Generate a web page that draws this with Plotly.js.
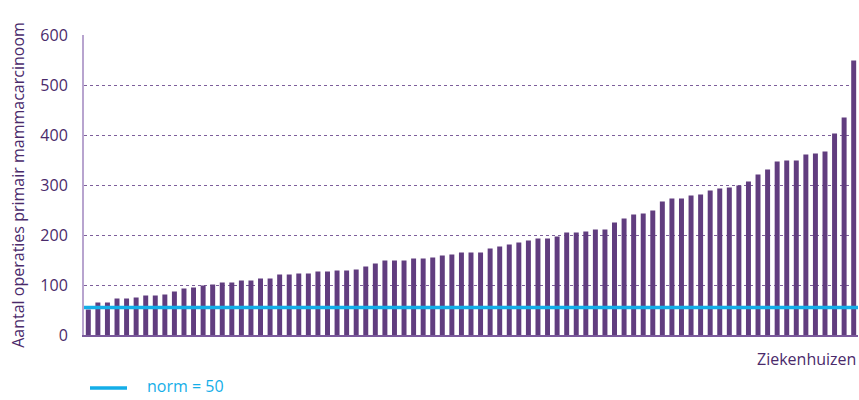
<!DOCTYPE html>
<html>
<head>
<meta charset="utf-8">
<script src="https://cdn.plot.ly/plotly-3.0.1.min.js"></script>
<style>html,body{margin:0;padding:0;background:#fff}#chart{width:859px;height:400px}</style>
</head>
<body>
<div id="chart"></div>
<script>
// Aantal operaties primair mammacarcinoom per ziekenhuis (gesorteerd)
const operaties = [
  51, 65, 65, 73, 73, 75, 79, 79, 81, 87, 93, 95, 99, 101,
  105, 105, 109, 109, 113, 113, 121, 121, 123, 123, 127, 127, 129, 129,
  131, 137, 143, 149, 149, 149, 153, 153, 155, 159, 161, 165, 165, 165,
  173, 177, 181, 185, 189, 193, 193, 197, 205, 205, 207, 211, 211,
  225, 233, 241, 243, 249, 267, 273, 273, 279, 281, 289, 293, 295, 299,
  307, 321, 331, 347, 349, 349, 361, 363, 367, 403, 435, 549
];
const ziekenhuizen = operaties.map((v, i) => i);
const normLevel = 55;          // level as drawn in the picture
const normLabel = 'norm = 50';
const yTicks = [0, 100, 200, 300, 400, 500, 600];
const yTickText = ['0', '100', '200', '300', '400', '500', '600'];

const purple = '#613d7f';
const textPurple = '#4a2a6b';
const blue = '#14aee8';
const font = 'Open Sans, Lato, sans-serif';

const xMin = -0.45, xMax = operaties.length - 1 + 0.45;

const traces = [
  {
    type: 'bar', x: ziekenhuizen, y: operaties,
    marker: {color: purple}, width: 0.52, showlegend: false, hoverinfo: 'y'
  },
  {
    type: 'scatter', mode: 'lines', x: [xMin, xMax], y: [normLevel, normLevel],
    line: {color: blue, width: 3.5}, name: normLabel, showlegend: false
  }
];

const layout = {
  width: 859, height: 400,
  margin: {l: 84, r: 1, t: 35, b: 64.5},
  paper_bgcolor: '#fff', plot_bgcolor: '#fff',
  font: {family: font, color: textPurple, size: 16},
  xaxis: {
    range: [xMin, xMax], showticklabels: false, ticks: '', showgrid: false,
    zeroline: false, showline: true, linecolor: '#7b5a9c', linewidth: 2, fixedrange: true
  },
  yaxis: {
    range: [0, 600], tickvals: yTicks, ticktext: yTickText,
    showgrid: true, gridcolor: '#7d5f9b', griddash: 'dot', gridwidth: 1,
    zeroline: false, showline: true, linecolor: '#b8a4cf', linewidth: 2,
    ticks: '', ticklabelstandoff: 11,
    tickfont: {family: font, size: 16, color: textPurple},
    title: {text: 'Aantal operaties primair mammacarcinoom', font: {family: font, size: 16, color: textPurple}, standoff: 12}
  },
  showlegend: false,
  shapes: [{
    type: 'line', xref: 'paper', yref: 'paper',
    x0: (90 - 84) / 774, x1: (127 - 84) / 774, y0: -0.177, y1: -0.177,
    line: {color: blue, width: 3.5}
  }],
  annotations: [
    {
      text: 'Ziekenhuizen', xref: 'paper', yref: 'paper', x: 1, y: 0,
      xanchor: 'right', yanchor: 'top', yshift: -11, showarrow: false,
      font: {family: font, size: 16, color: textPurple}
    },
    {
      text: normLabel, xref: 'paper', yref: 'paper', x: (146 - 84) / 774, y: -0.2113,
      xanchor: 'left', yanchor: 'bottom', showarrow: false, borderpad: 0,
      font: {family: font, size: 16, color: blue}
    }
  ],
  bargap: 0.48
};

Plotly.newPlot('chart', traces, layout, {displayModeBar: false, staticPlot: true});
</script>
</body>
</html>
